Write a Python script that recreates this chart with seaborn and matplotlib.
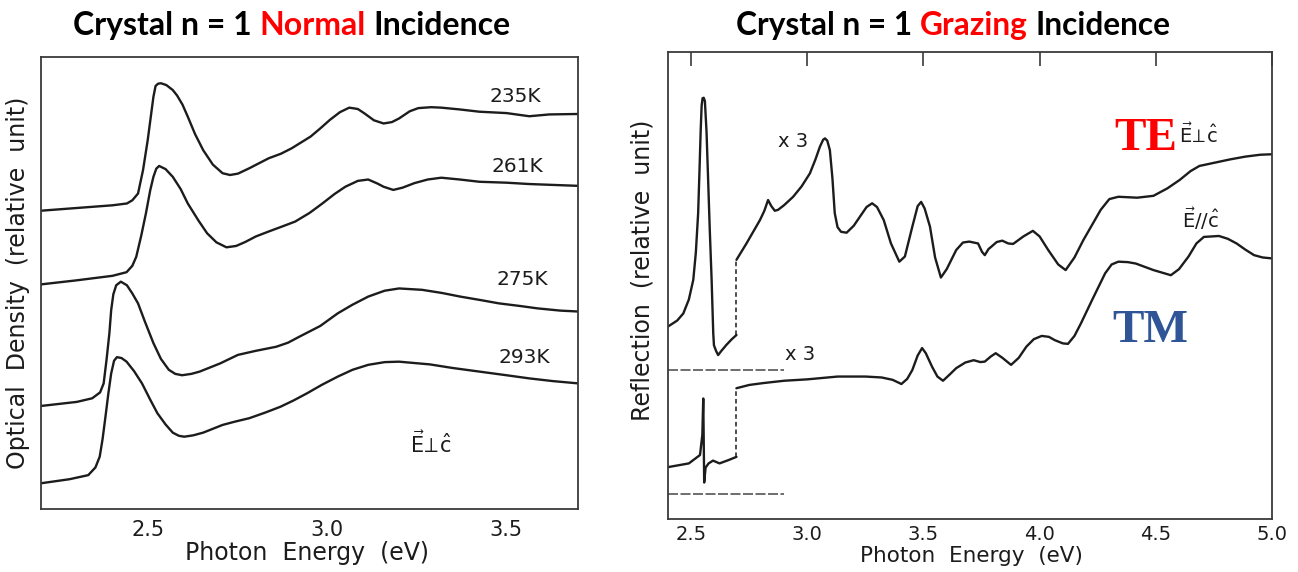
import matplotlib
matplotlib.use("Agg")
import matplotlib.pyplot as plt
from matplotlib.ticker import FixedLocator, MultipleLocator, NullLocator
import seaborn as sns

sns.set_style("white")
plt.rcParams["font.family"] = ["DejaVu Sans"]
plt.rcParams["mathtext.fontset"] = "dejavusans"

# ---------------- Normal incidence: optical density, E perp c ----------------
E_235 = [2.20, 2.30, 2.40, 2.44, 2.455, 2.471, 2.485, 2.498, 2.507, 2.514, 2.520,
         2.527, 2.535, 2.550, 2.568, 2.580, 2.595, 2.610, 2.630, 2.653, 2.680,
         2.707, 2.728, 2.750, 2.782, 2.836, 2.870, 2.900, 2.953, 2.980, 3.007,
         3.035, 3.061, 3.085, 3.104, 3.130, 3.157, 3.180, 3.200, 3.230, 3.254,
         3.290, 3.318, 3.370, 3.425, 3.500, 3.564, 3.620, 3.700]
OD_235 = [6.60, 6.66, 6.72, 6.76, 6.83, 6.98, 7.50, 8.16, 8.70, 9.12, 9.36,
          9.41, 9.42, 9.38, 9.27, 9.15, 8.95, 8.68, 8.30, 7.94, 7.62,
          7.43, 7.39, 7.42, 7.54, 7.76, 7.86, 7.98, 8.24, 8.42, 8.61,
          8.78, 8.88, 8.85, 8.75, 8.60, 8.53, 8.56, 8.64, 8.80, 8.87,
          8.89, 8.88, 8.84, 8.79, 8.76, 8.69, 8.73, 8.74]

E_261 = [2.20, 2.30, 2.40, 2.439, 2.455, 2.466, 2.480, 2.493, 2.505, 2.514, 2.522,
         2.530, 2.548, 2.568, 2.590, 2.610, 2.640, 2.664, 2.690, 2.718, 2.745,
         2.771, 2.800, 2.836, 2.870, 2.910, 2.950, 2.986, 3.020, 3.050, 3.085,
         3.114, 3.140, 3.157, 3.184, 3.210, 3.243, 3.280, 3.318, 3.370, 3.425,
         3.500, 3.564, 3.700]
OD_261 = [4.97, 5.06, 5.16, 5.24, 5.38, 5.58, 6.05, 6.54, 7.05, 7.35, 7.53,
          7.59, 7.52, 7.35, 7.08, 6.76, 6.38, 6.10, 5.90, 5.79, 5.82,
          5.91, 6.03, 6.14, 6.24, 6.36, 6.55, 6.76, 6.97, 7.13, 7.26,
          7.29, 7.20, 7.13, 7.06, 7.11, 7.21, 7.29, 7.33, 7.29, 7.24,
          7.22, 7.19, 7.15]

E_275 = [2.20, 2.30, 2.343, 2.365, 2.375, 2.383, 2.391, 2.396, 2.402, 2.410, 2.423,
         2.440, 2.455, 2.471, 2.490, 2.514, 2.535, 2.557, 2.575, 2.594, 2.620,
         2.643, 2.700, 2.750, 2.800, 2.857, 2.890, 2.921, 2.980, 3.029, 3.070,
         3.114, 3.160, 3.200, 3.264, 3.320, 3.371, 3.430, 3.479, 3.540, 3.586,
         3.650, 3.700]
OD_275 = [2.28, 2.37, 2.45, 2.58, 2.78, 3.30, 3.89, 4.40, 4.75, 4.95, 5.03,
          4.95, 4.77, 4.55, 4.15, 3.67, 3.32, 3.08, 2.99, 2.96, 2.99,
          3.04, 3.22, 3.41, 3.50, 3.59, 3.68, 3.81, 4.05, 4.33, 4.52,
          4.70, 4.83, 4.88, 4.85, 4.78, 4.70, 4.62, 4.55, 4.49, 4.44,
          4.39, 4.37]

E_293 = [2.20, 2.28, 2.332, 2.352, 2.364, 2.372, 2.380, 2.388, 2.396, 2.404, 2.412,
         2.425, 2.439, 2.460, 2.482, 2.505, 2.525, 2.548, 2.568, 2.585, 2.600,
         2.625, 2.653, 2.707, 2.740, 2.782, 2.825, 2.868, 2.905, 2.943, 2.985,
         3.029, 3.070, 3.114, 3.160, 3.200, 3.286, 3.350, 3.425, 3.500, 3.564,
         3.630, 3.700]
OD_293 = [0.57, 0.66, 0.75, 0.92, 1.16, 1.55, 2.04, 2.55, 3.00, 3.28, 3.36,
          3.34, 3.26, 3.05, 2.78, 2.42, 2.12, 1.87, 1.69, 1.62, 1.60,
          1.63, 1.69, 1.86, 1.93, 2.01, 2.13, 2.26, 2.40, 2.56, 2.75,
          2.93, 3.08, 3.19, 3.25, 3.26, 3.20, 3.12, 3.04, 2.96, 2.89,
          2.83, 2.78]

TEMP_LABELS = ["235K", "261K", "275K", "293K"]
TEMP_LABEL_E = [3.454, 3.459, 3.471, 3.477]
TEMP_LABEL_OD = [9.01, 7.46, 4.96, 3.22]

# ---------------- Grazing incidence: reflection ----------------
SCALE_BREAK_E = 2.695      # the curves are magnified x3 above this energy
BASELINE_END_E = 2.90

TE_LOW_E = [2.400, 2.440, 2.466, 2.490, 2.509, 2.520, 2.530, 2.536, 2.541, 2.545,
            2.549, 2.554, 2.559, 2.566, 2.573, 2.580, 2.588, 2.595, 2.598, 2.607,
            2.616, 2.630, 2.652, 2.675, 2.695]
TE_LOW_R = [4.12, 4.25, 4.40, 4.70, 5.12, 5.70, 6.55, 7.50, 8.33, 8.85,
            9.01, 9.02, 8.95, 8.30, 7.26, 6.20, 5.12, 3.98, 3.72, 3.60,
            3.51, 3.60, 3.73, 3.85, 3.94]
TE_X3_E = [2.695, 2.738, 2.796, 2.815, 2.831, 2.845, 2.860, 2.874, 2.900, 2.939,
           2.975, 3.011, 3.035, 3.054, 3.068, 3.076, 3.086, 3.097, 3.108, 3.118,
           3.130, 3.145, 3.169, 3.200, 3.226, 3.255, 3.279, 3.300, 3.329, 3.360,
           3.396, 3.420, 3.452, 3.475, 3.490, 3.505, 3.528, 3.550, 3.575, 3.600,
           3.641, 3.670, 3.697, 3.735, 3.752, 3.764, 3.780, 3.792, 3.815, 3.839,
           3.865, 3.886, 3.930, 3.971, 4.000, 4.037, 4.080, 4.112, 4.150, 4.188,
           4.263, 4.300, 4.339, 4.420, 4.490, 4.550, 4.603, 4.650, 4.688, 4.754,
           4.820, 4.886, 4.950, 5.000]
TE_X3_R = [5.55, 5.90, 6.40, 6.60, 6.83, 6.70, 6.60, 6.62, 6.72, 6.90,
           7.12, 7.40, 7.70, 7.97, 8.12, 8.15, 8.10, 7.90, 7.30, 6.55,
           6.25, 6.15, 6.13, 6.28, 6.47, 6.68, 6.76, 6.68, 6.40, 5.90,
           5.51, 5.62, 6.26, 6.70, 6.79, 6.65, 6.26, 5.60, 5.17, 5.35,
           5.76, 5.92, 5.94, 5.90, 5.72, 5.65, 5.78, 5.83, 5.93, 5.96,
           5.90, 5.89, 6.05, 6.17, 6.05, 5.76, 5.45, 5.33, 5.60, 5.97,
           6.62, 6.85, 6.90, 6.88, 6.92, 7.08, 7.26, 7.45, 7.56, 7.63,
           7.70, 7.76, 7.80, 7.81]
TE_BASELINE = 3.19

TM_LOW_E = [2.400, 2.490, 2.538, 2.548, 2.552, 2.556, 2.562, 2.575, 2.594, 2.622,
            2.660, 2.695]
TM_LOW_R = [1.11, 1.19, 1.37, 1.80, 2.58, 0.78, 1.10, 1.19, 1.25, 1.19,
            1.26, 1.33]
TM_X3_E = [2.695, 2.750, 2.810, 2.900, 3.000, 3.131, 3.250, 3.320, 3.367, 3.405,
           3.430, 3.452, 3.475, 3.494, 3.510, 3.537, 3.560, 3.584, 3.610, 3.641,
           3.680, 3.716, 3.745, 3.764, 3.790, 3.811, 3.840, 3.877, 3.910, 3.943,
           3.975, 4.009, 4.040, 4.065, 4.100, 4.122, 4.150, 4.178, 4.226, 4.282,
           4.310, 4.339, 4.380, 4.414, 4.490, 4.565, 4.600, 4.641, 4.675, 4.707,
           4.772, 4.810, 4.848, 4.885, 4.923, 4.960, 5.000]
TM_X3_R = [2.80, 2.87, 2.91, 2.96, 2.99, 3.05, 3.05, 3.03, 2.98, 2.89,
           3.00, 3.19, 3.50, 3.66, 3.55, 3.26, 3.05, 2.96, 3.08, 3.23,
           3.35, 3.40, 3.36, 3.37, 3.48, 3.55, 3.45, 3.30, 3.45, 3.69,
           3.85, 3.92, 3.90, 3.83, 3.76, 3.75, 3.92, 4.19, 4.69, 5.26,
           5.45, 5.51, 5.50, 5.47, 5.33, 5.22, 5.35, 5.62, 5.90, 6.04,
           6.06, 6.00, 5.90, 5.77, 5.65, 5.60, 5.58]
TM_BASELINE = 0.53

INK = "#1c1c1c"
FRAME = "#3a3a3a"
RED = "#FF0000"
BLUE = "#2F5597"

fig = plt.figure(figsize=(12.98, 5.72), dpi=100)
ax1 = fig.add_axes([0.0316, 0.1101, 0.4137, 0.7902])
ax2 = fig.add_axes([0.5146, 0.0927, 0.4653, 0.8164])

line_kw = dict(color=INK, linewidth=1.7, sort=False, estimator=None, legend=False)

# ---- left panel
for E, OD in [(E_235, OD_235), (E_261, OD_261), (E_275, OD_275), (E_293, OD_293)]:
    sns.lineplot(x=E, y=OD, ax=ax1, **line_kw)
for lab, xe, yo in zip(TEMP_LABELS, TEMP_LABEL_E, TEMP_LABEL_OD):
    ax1.text(xe, yo, lab, fontsize=14.5, color=INK, ha="left", va="baseline")
ax1.text(3.231, 1.24, r"$\vec{\mathrm{E}}\!\perp\!\hat{\mathrm{c}}$", fontsize=15,
         color=INK, ha="left", va="baseline")

ax1.set_xlim(2.2, 3.7)
ax1.set_ylim(0, 10)
ax1.xaxis.set_major_locator(FixedLocator([2.5, 3.0, 3.5]))
ax1.xaxis.set_minor_locator(MultipleLocator(0.1))
ax1.yaxis.set_major_locator(NullLocator())
ax1.tick_params(axis="x", which="major", direction="in", length=10, width=1.2,
                color=FRAME, labelsize=15, pad=8, labelcolor=INK)
ax1.tick_params(axis="x", which="minor", direction="in", length=4, width=1.0, color=FRAME)
ax1.set_xlabel("Photon  Energy  (eV)", fontsize=17, color=INK)
ax1.xaxis.set_label_coords(0.495, -0.070)
ax1.set_ylabel("Optical  Density  (relative  unit)", fontsize=17, color=INK)
ax1.yaxis.set_label_coords(-0.020, 0.50)

# ---- right panel
sns.lineplot(x=TE_LOW_E, y=TE_LOW_R, ax=ax2, **line_kw)
sns.lineplot(x=TE_X3_E, y=TE_X3_R, ax=ax2, **line_kw)
sns.lineplot(x=TM_LOW_E, y=TM_LOW_R, ax=ax2, **line_kw)
sns.lineplot(x=TM_X3_E, y=TM_X3_R, ax=ax2, **line_kw)

# dashed connectors at the x3 scale change
for low_r, high_r in [(TE_LOW_R[-1], TE_X3_R[0]), (TM_LOW_R[-1], TM_X3_R[0])]:
    sns.lineplot(x=[SCALE_BREAK_E, SCALE_BREAK_E], y=[low_r, high_r], ax=ax2,
                 color=INK, linewidth=1.1, linestyle=(0, (3, 2)), sort=False,
                 estimator=None, legend=False)

# zero-reflection baselines
for base in [TE_BASELINE, TM_BASELINE]:
    sns.lineplot(x=[2.4, BASELINE_END_E], y=[base, base], ax=ax2, color="#555555",
                 linewidth=1.2, linestyle=(0, (6, 1.5)), sort=False,
                 estimator=None, legend=False)

ax2.text(2.873, 7.97, "x 3", fontsize=14, color=INK, ha="left", va="baseline")
ax2.text(2.903, 3.40, "x 3", fontsize=14, color=INK, ha="left", va="baseline")
ax2.text(4.323, 7.90, "TE", fontsize=34, color=RED, fontweight="bold",
         family="Liberation Serif", ha="left", va="baseline")
ax2.text(4.314, 3.80, "TM", fontsize=34, color=BLUE, fontweight="bold",
         family="Liberation Serif", ha="left", va="baseline")
ax2.text(4.602, 8.05, r"$\vec{\mathrm{E}}\!\perp\!\hat{\mathrm{c}}$", fontsize=14,
         color=INK, ha="left", va="baseline")
ax2.text(4.611, 6.23, r"$\vec{\mathrm{E}}\mathit{//}\hat{\mathrm{c}}$", fontsize=14,
         color=INK, ha="left", va="baseline")

ax2.set_xlim(2.4, 5.0)
ax2.set_ylim(0, 10)
ax2.xaxis.set_major_locator(FixedLocator([2.5, 3.0, 3.5, 4.0, 4.5, 5.0]))
ax2.yaxis.set_major_locator(NullLocator())
ax2.tick_params(axis="x", which="major", direction="in", length=10, width=1.2,
                color=FRAME, labelsize=14, pad=4, labelcolor=INK, top=True)
ax2.set_xlabel("Photon  Energy  (eV)", fontsize=15.5, color=INK)
ax2.xaxis.set_label_coords(0.502, -0.057)
ax2.set_ylabel("Reflection  (relative  unit)", fontsize=17, color=INK)
ax2.yaxis.set_label_coords(-0.022, 0.533)

for ax in (ax1, ax2):
    for sp in ax.spines.values():
        sp.set_visible(True)
        sp.set_color(FRAME)
        sp.set_linewidth(1.3)


# ---- panel titles with a highlighted word
TITLE_KW = dict(fontweight="bold", family=["Lato", "DejaVu Sans"])


def text_width(s, size):
    r = fig.canvas.get_renderer()
    t = fig.text(0, 0, s, fontsize=size, **TITLE_KW)
    w = t.get_window_extent(r).width
    t.remove()
    return w


def draw_title(parts, cx_px, base_px, target_w=436):
    full = "".join(s for s, _ in parts)
    size = 20 * target_w / text_width(full, 20)
    x0 = cx_px - text_width(full, size) / 2
    y = 1 - base_px / 572
    prefix = ""
    for s, c in parts:
        word = s.strip()
        if prefix:
            lead = prefix + s[: len(s) - len(s.lstrip())] + word[0]
            off = text_width(lead, size) - text_width(word[0], size)
        else:
            off = 0
        fig.text((x0 + off) / 1298, y, word, fontsize=size, color=c,
                 ha="left", va="baseline", **TITLE_KW)
        prefix += s


draw_title([("Crystal n = 1 ", "black"), ("Normal", RED), (" Incidence", "black")], 292, 35)
draw_title([("Crystal n = 1 ", "black"), ("Grazing", RED), (" Incidence", "black")], 953, 35)

fig.savefig("out.png", dpi=100)
